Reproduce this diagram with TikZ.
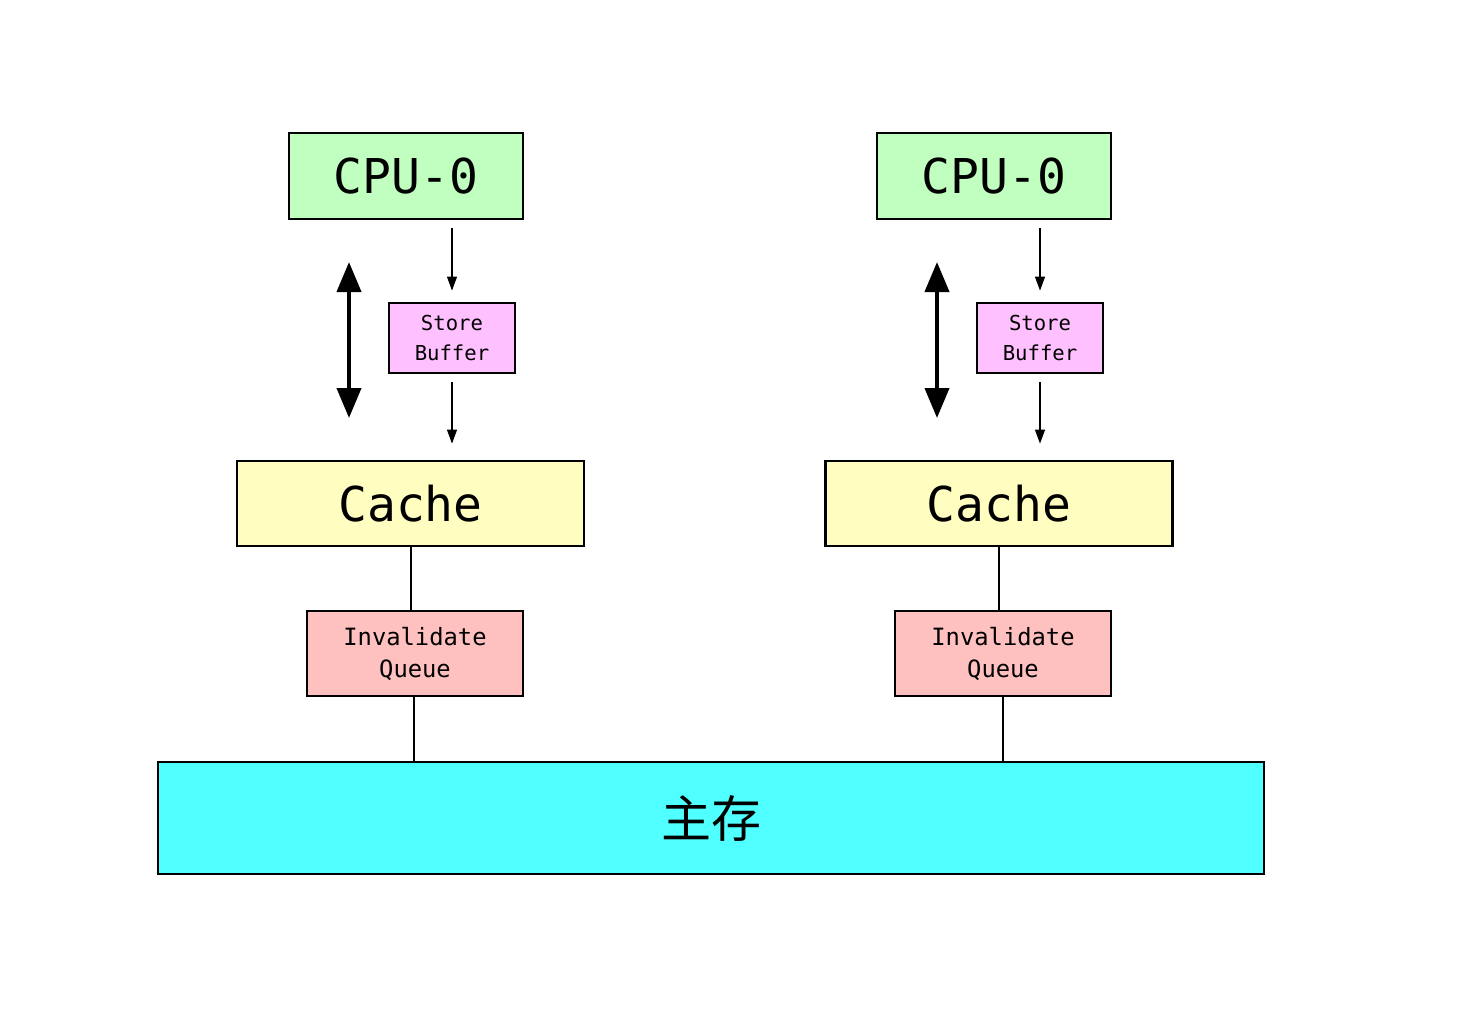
\documentclass[tikz,border=0pt]{standalone}
\usepackage{fontspec}
\usepackage{xcolor}
\usepackage{tikz}
\usetikzlibrary{positioning,arrows.meta}
\setmonofont{DejaVu Sans Mono}
\newfontfamily\cjk{Noto Sans CJK SC}
\definecolor{cpugreen}{RGB}{192,255,192}
\definecolor{bufpink}{RGB}{255,192,255}
\definecolor{cacheyellow}{RGB}{255,253,192}
\definecolor{queuered}{RGB}{255,192,192}
\definecolor{memcyan}{RGB}{80,255,255}

\begin{document}
\begin{tikzpicture}[x=0.5pt, y=-0.5pt,
  box/.style={draw, line width=1.4pt, rectangle, align=center, inner sep=0pt},
  bigbox/.style={box, font=\fontsize{24}{26}\selectfont\ttfamily},
  smallbox/.style={box, font=\fontsize{10.3}{15}\selectfont\ttfamily},
  thinarrow/.style={-{Triangle[length=7pt,width=5pt]}, line width=0.6pt},
  busarrow/.style={{Triangle[length=15pt,width=12pt]}-{Triangle[length=15pt,width=12pt]}, line width=2pt},
  link/.style={line width=1.4pt}]
\useasboundingbox (0,0) rectangle (1468,1018);

% CPU 0 (left)
\node[bigbox, fill=cpugreen, minimum width=117pt, minimum height=43pt] (cpuL) at (406,176) {CPU-0};
\node[smallbox, fill=bufpink, minimum width=63pt, minimum height=35pt] (sbL) at (452,338) {Store\\Buffer};
\node[bigbox, fill=cacheyellow, minimum width=173.5pt, minimum height=42.5pt] (cacheL) at (410.5,503.5) {Cache};
\node[smallbox, font=\fontsize{11.9}{16}\selectfont\ttfamily, fill=queuered, minimum width=108pt, minimum height=42.5pt] (iqL) at (415,653.5) {Invalidate\\Queue};
\coordinate (upL) at (349,262);
\coordinate (downL) at (349,418);

% CPU 0 (right)
\node[bigbox, fill=cpugreen, minimum width=117pt, minimum height=43pt] (cpuR) at (994,176) {CPU-0};
\node[smallbox, fill=bufpink, minimum width=63pt, minimum height=35pt] (sbR) at (1040,338) {Store\\Buffer};
\node[bigbox, fill=cacheyellow, minimum width=173.5pt, minimum height=42.5pt] (cacheR) at (999,503.5) {Cache};
\node[smallbox, font=\fontsize{11.9}{16}\selectfont\ttfamily, fill=queuered, minimum width=108pt, minimum height=42.5pt] (iqR) at (1003,653.5) {Invalidate\\Queue};
\coordinate (upR) at (937,262);
\coordinate (downR) at (937,418);

% main memory
\node[box, fill=memcyan, minimum width=553pt, minimum height=56pt, font=\fontsize{25}{27}\selectfont\cjk] (mem) at (711,818) {主存};

% arrows
\draw[thinarrow, shorten <=4pt, shorten >=5.5pt] (cpuL.south -| sbL) -- (sbL);
\draw[thinarrow, shorten <=4pt, shorten >=8pt] (sbL) -- (sbL |- cacheL.north);
\draw[busarrow] (upL) -- (downL);
\draw[link] (cacheL.south -| 411,0) -- (iqL.north -| 411,0);
\draw[link] (iqL.south -| 414,0) -- (mem.north -| 414,0);

\draw[thinarrow, shorten <=4pt, shorten >=5.5pt] (cpuR.south -| sbR) -- (sbR);
\draw[thinarrow, shorten <=4pt, shorten >=8pt] (sbR) -- (sbR |- cacheR.north);
\draw[busarrow] (upR) -- (downR);
\draw[link] (cacheR.south -| 999,0) -- (iqR.north -| 999,0);
\draw[link] (iqR.south -| 1003,0) -- (mem.north -| 1003,0);
\end{tikzpicture}
\end{document}
